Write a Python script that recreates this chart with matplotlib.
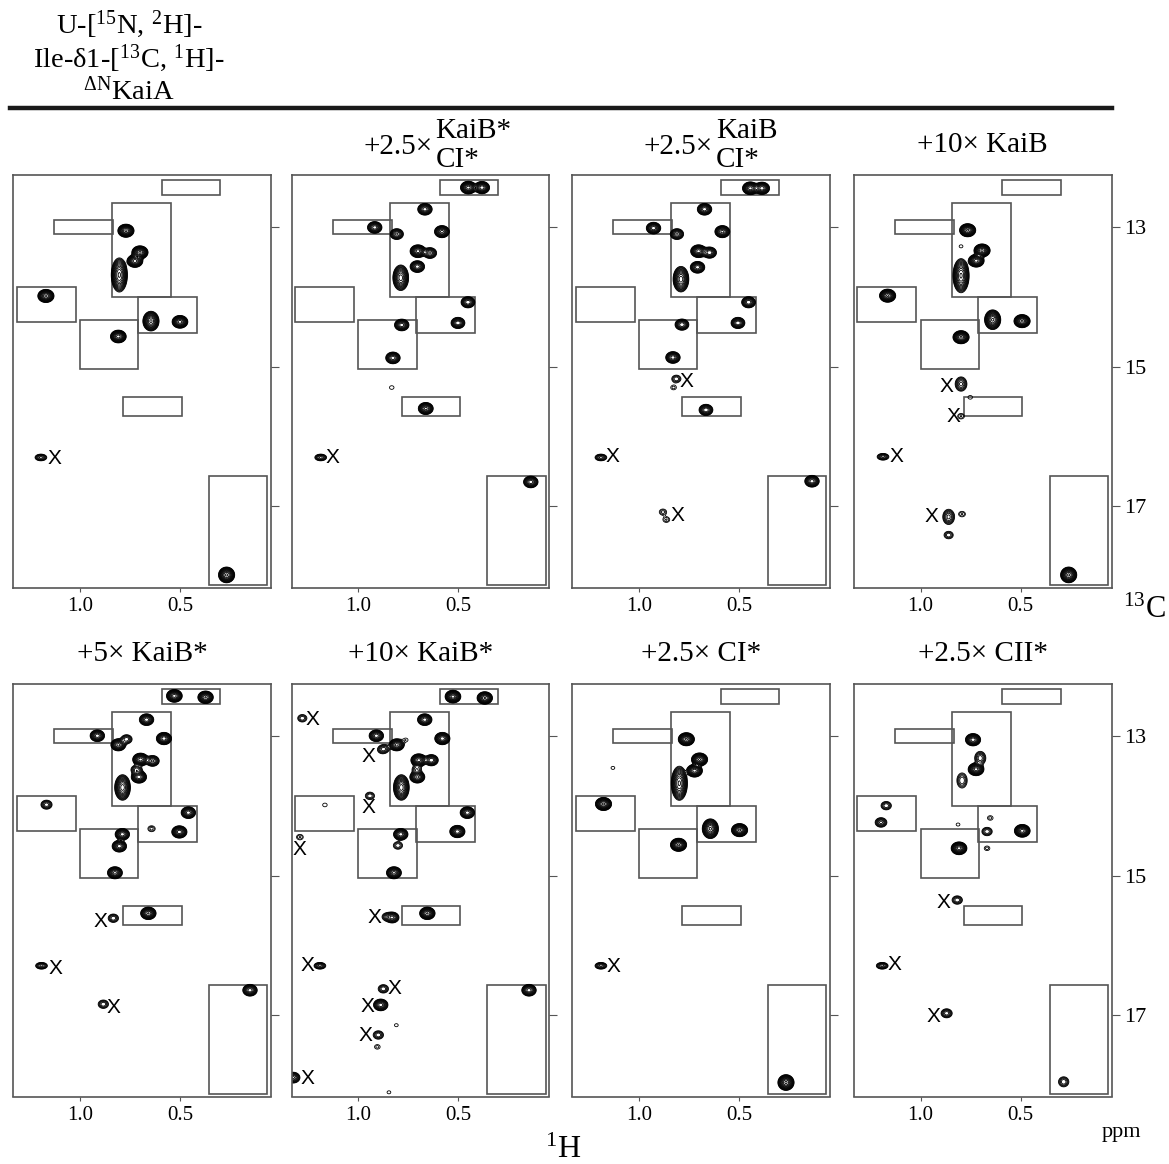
import numpy as np
import matplotlib
matplotlib.use("Agg")
import matplotlib.pyplot as plt
from matplotlib.patches import Rectangle

plt.rcParams['font.family'] = ['Liberation Serif', 'DejaVu Serif']
plt.rcParams['mathtext.fontset'] = 'custom'
plt.rcParams['mathtext.rm'] = 'Liberation Serif'
plt.rcParams['mathtext.default'] = 'regular'

# panel titles (row by row)
titles = [None, ('+2.5×', 'KaiB*', 'CI*'), ('+2.5×', 'KaiB', 'CI*'), '+10× KaiB',
          '+5× KaiB*', '+10× KaiB*', '+2.5× CI*', '+2.5× CII*']

# assignment boxes: 1H left, 1H right, 13C top, 13C bottom (ppm)
boxes = [(0.592, 0.300, 12.33, 12.54),
         (0.842, 0.546, 12.665, 14.00),
         (1.128, 0.833, 12.91, 13.11),
         (1.316, 1.021, 13.855, 14.36),
         (0.711, 0.416, 14.01, 14.52),
         (1.000, 0.708, 14.33, 15.04),
         (0.783, 0.491, 15.44, 15.71),
         (0.355, 0.063, 16.57, 18.13)]

# peaks per panel: (1H ppm, 13C ppm, height, 13C width factor)
peaks_1 = [(0.770, 13.057, 30, 1), (0.700, 13.367, 30, 1), (0.725, 13.49, 25, 1),
           (0.803, 13.69, 30, 2.6), (1.170, 13.99, 30, 1), (0.645, 14.35, 30, 1.5),
           (0.500, 14.36, 25, 1), (0.808, 14.57, 25, 1), (1.195, 16.30, 6, 0.7),
           (0.267, 17.98, 30, 1.2)]
peaks_2 = [(0.450, 12.44, 25, 1), (0.382, 12.44, 20, 1), (0.667, 12.75, 15, 1),
           (0.918, 13.01, 15, 1), (0.808, 13.105, 10, 1), (0.582, 13.07, 18, 1),
           (0.702, 13.35, 25, 1), (0.642, 13.376, 10, 1), (0.705, 13.57, 15, 1),
           (0.788, 13.73, 25, 2.0), (0.452, 14.08, 12, 1), (0.502, 14.376, 12, 1),
           (0.783, 14.405, 15, 1), (0.827, 14.876, 15, 1), (0.833, 15.30, 1.3, 1),
           (0.663, 15.60, 18, 1), (1.188, 16.30, 6, 0.7), (0.138, 16.65, 15, 1)]
peaks_3 = [(0.443, 12.45, 25, 1), (0.385, 12.45, 20, 1), (0.672, 12.75, 15, 1),
           (0.927, 13.02, 15, 1), (0.810, 13.105, 10, 1), (0.583, 13.07, 18, 1),
           (0.702, 13.35, 25, 1), (0.647, 13.37, 12, 1), (0.707, 13.58, 15, 1),
           (0.790, 13.75, 25, 2.0), (0.452, 14.08, 12, 1), (0.505, 14.376, 12, 1),
           (0.785, 14.40, 12, 1), (0.830, 14.87, 15, 1), (0.813, 15.176, 3, 1),
           (0.827, 15.30, 1.5, 1), (0.665, 15.62, 12, 1), (1.190, 16.30, 6, 0.7),
           (0.135, 16.64, 15, 1), (0.880, 17.08, 2, 1), (0.863, 17.19, 1.8, 1)]
peaks_4 = [(0.765, 13.05, 30, 1), (0.693, 13.34, 30, 1), (0.722, 13.486, 25, 1),
           (0.798, 13.70, 30, 2.6), (0.798, 13.28, 1.2, 1), (1.165, 13.986, 30, 1),
           (0.640, 14.33, 30, 1.5), (0.493, 14.35, 30, 1), (0.798, 14.58, 30, 1),
           (0.798, 15.25, 6, 1.5), (0.752, 15.44, 1.3, 1), (0.798, 15.71, 1.8, 1),
           (1.188, 16.29, 6, 0.7), (0.860, 17.15, 6, 1.6), (0.860, 17.41, 3, 1),
           (0.793, 17.11, 1.8, 1), (0.260, 17.98, 30, 1.2)]
peaks_5 = [(0.528, 12.43, 25, 1), (0.372, 12.45, 22, 1), (0.667, 12.77, 15, 1),
           (0.913, 13.00, 15, 1), (0.808, 13.13, 18, 1), (0.767, 13.05, 5, 1),
           (0.580, 13.04, 20, 1), (0.697, 13.34, 25, 1), (0.637, 13.36, 10, 1),
           (0.717, 13.486, 5, 1), (0.705, 13.59, 20, 1), (0.787, 13.74, 25, 2.0),
           (1.167, 13.986, 5, 1), (0.458, 14.10, 15, 1), (0.642, 14.33, 2, 1),
           (0.503, 14.376, 20, 1), (0.788, 14.41, 15, 1), (0.803, 14.58, 15, 1),
           (0.825, 14.96, 18, 1), (0.658, 15.54, 22, 1), (0.833, 15.61, 4, 1),
           (1.192, 16.29, 6, 0.7), (0.883, 16.84, 4, 1), (0.150, 16.64, 15, 1)]
peaks_6 = [(0.527, 12.44, 25, 1), (0.368, 12.46, 22, 1), (0.668, 12.77, 15, 1),
           (0.910, 13.00, 15, 1), (0.808, 13.13, 18, 1), (0.763, 13.06, 1.3, 1),
           (0.580, 13.04, 20, 1), (0.698, 13.35, 25, 1), (0.635, 13.35, 12, 1),
           (0.708, 13.48, 3, 1), (0.705, 13.59, 18, 1), (0.785, 13.74, 25, 2.0),
           (1.280, 12.75, 3, 1), (0.880, 13.20, 3, 1), (0.868, 13.18, 2.5, 1),
           (0.942, 13.86, 3, 1), (1.167, 13.99, 1.3, 1), (1.292, 14.45, 1.8, 1),
           (0.455, 14.10, 15, 1), (0.505, 14.37, 20, 1), (0.788, 14.41, 15, 1),
           (0.802, 14.57, 3, 1), (0.822, 14.96, 18, 1), (0.655, 15.54, 22, 1),
           (0.830, 15.60, 10, 1), (0.858, 15.59, 3, 1), (1.192, 16.29, 6, 0.7),
           (0.875, 16.62, 4, 1), (0.888, 16.85, 15, 1), (0.810, 17.14, 1.2, 1),
           (0.900, 17.28, 4, 1), (0.905, 17.45, 1.5, 1), (1.325, 17.89, 10, 1),
           (0.847, 18.10, 1.2, 1), (0.147, 16.64, 15, 1)]
peaks_7 = [(0.763, 13.05, 30, 1), (0.697, 13.34, 30, 1), (0.722, 13.50, 25, 1),
           (0.798, 13.68, 30, 2.6), (1.130, 13.46, 1.2, 1), (1.177, 13.976, 30, 1),
           (0.643, 14.33, 30, 1.5), (0.497, 14.35, 30, 1), (0.802, 14.56, 30, 1),
           (1.190, 16.29, 6, 0.7), (0.265, 17.96, 30, 1.2)]
peaks_8 = [(0.738, 13.057, 20, 1), (0.702, 13.32, 5, 1.5), (0.723, 13.48, 25, 1),
           (0.793, 13.64, 4, 1.8), (1.172, 14.00, 4, 1), (1.198, 14.24, 6, 1),
           (0.813, 14.27, 1.2, 1), (0.652, 14.176, 1.5, 1), (0.668, 14.37, 4, 1),
           (0.492, 14.36, 25, 1), (0.668, 14.61, 1.5, 1), (0.808, 14.61, 25, 1),
           (0.817, 15.35, 4, 1), (1.192, 16.29, 6, 0.7), (0.870, 16.97, 5, 1),
           (0.285, 17.95, 4, 1.2)]
all_peaks = [peaks_1, peaks_2, peaks_3, peaks_4, peaks_5, peaks_6, peaks_7, peaks_8]

# "X" artifact marks per panel (1H, 13C)
marks_1 = [(1.128, 16.32)]
marks_2 = [(1.130, 16.30)]
marks_3 = [(0.760, 15.21), (1.130, 16.29), (0.807, 17.13)]
marks_4 = [(0.872, 15.29), (0.838, 15.71), (1.122, 16.29), (0.947, 17.15)]
marks_5 = [(0.897, 15.65), (1.120, 16.33), (0.833, 16.88)]
marks_6 = [(1.227, 12.77), (0.947, 13.29), (0.947, 14.03), (1.292, 14.63),
           (0.918, 15.60), (1.252, 16.29), (0.817, 16.62), (0.952, 16.87),
           (0.963, 17.29), (1.252, 17.90)]
marks_7 = [(1.127, 16.30)]
marks_8 = [(0.888, 15.38), (1.130, 16.27), (0.935, 17.01)]
all_marks = [marks_1, marks_2, marks_3, marks_4, marks_5, marks_6, marks_7, marks_8]

W, H = 1169, 1164
fig = plt.figure(figsize=(W / 100, H / 100), dpi=100)

col_left = [13.3, 291.7, 572.3, 854.0]
row_top = [175.0, 684.0]
pw, ph = 257.5, 412.5

xg = np.linspace(0.03, 1.35, 600)
yg = np.linspace(12.2, 18.2, 1000)
X, Y = np.meshgrid(xg, yg)
levels = 1.0 * 1.32 ** np.arange(15)
sx, sy = 0.0155, 0.036
edge = '#555555'

for i in range(8):
    r, c = divmod(i, 4)
    left = col_left[c] / W
    bottom = 1 - (row_top[r] + ph) / H
    ax = fig.add_axes([left, bottom, pw / W, ph / H])

    Z = np.zeros_like(X)
    for (hx, cy, amp, wy) in all_peaks[i]:
        Z += amp * np.exp(-0.5 * ((X - hx) / sx) ** 2 - 0.5 * ((Y - cy) / (sy * wy)) ** 2)
    ax.contour(X, Y, Z, levels=levels, colors='black', linewidths=0.6)

    for (x0, x1, y0, y1) in boxes:
        ax.add_patch(Rectangle((x1, y0), x0 - x1, y1 - y0, fill=False,
                               edgecolor=edge, linewidth=1.2))

    for (mx, my) in all_marks[i]:
        ax.text(mx, my, 'X', family='Liberation Sans', fontsize=15,
                ha='center', va='center')

    ax.set_xlim(1.333, 0.046)
    ax.set_ylim(18.16, 12.26)
    for s in ax.spines.values():
        s.set_color(edge)
        s.set_linewidth(1.2)
    ax.set_xticks([1.0, 0.5])
    ax.set_xticklabels(['1.0', '0.5'])
    ax.yaxis.tick_right()
    ax.set_yticks([13, 15, 17])
    ax.tick_params(axis='x', length=3, color=edge, labelsize=15, pad=4)
    ax.tick_params(axis='y', length=6, color=edge, labelsize=16, pad=3,
                   labelright=(c == 3))

    t = titles[i]
    cx = (col_left[c] + pw / 2) / W
    ty = 1 - (row_top[r] - 30) / H
    if isinstance(t, tuple):
        fig.text(cx + 0.010, ty - 0.002, t[0], ha='right', va='center', fontsize=21)
        fig.text(cx + 0.013, ty + 0.012, t[1], ha='left', va='center', fontsize=21)
        fig.text(cx + 0.013, ty - 0.013, t[2], ha='left', va='center', fontsize=21)
    elif t:
        fig.text(cx, ty, t, ha='center', va='center', fontsize=21)

# header
hx = 129 / W
fig.text(hx, 1 - 24 / H, 'U-[$^{15}$N, $^{2}$H]-', ha='center', va='center', fontsize=20.5)
fig.text(hx, 1 - 58 / H, 'Ile-δ1-[$^{13}$C, $^{1}$H]-', ha='center', va='center', fontsize=20.5)
fig.text(hx, 1 - 91 / H, '$^{ΔN}$KaiA', ha='center', va='center', fontsize=20.5)
fig.add_artist(plt.Line2D([10 / W, 1112 / W], [1 - 108 / H, 1 - 108 / H],
                          color='#1a1a1a', linewidth=3.2))

fig.text(563 / W, 1 - 1150 / H, '$^{1}$H', ha='center', va='center', fontsize=23)
fig.text(1166 / W, 1 - 610 / H, '$^{13}$C', ha='right', va='center', fontsize=22)
fig.text(1121 / W, 1 - 1132 / H, 'ppm', ha='center', va='center', fontsize=16)

fig.savefig('out.png', dpi=100)
